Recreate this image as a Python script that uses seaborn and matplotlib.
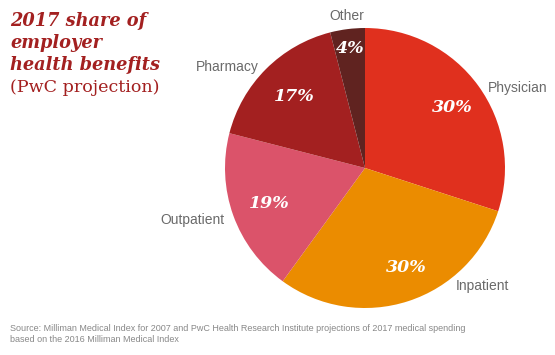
import matplotlib
matplotlib.use("Agg")
import matplotlib.pyplot as plt
import seaborn as sns
import numpy as np

# data
categories = ["Physician", "Inpatient", "Outpatient", "Pharmacy", "Other"]
shares = [30, 30, 19, 17, 4]
colors = ["#E0301E", "#EB8C00", "#DB536A", "#A32020", "#602320"]

title_lines = ["2017 share of", "employer", "health benefits"]
subtitle = "(PwC projection)"
source = ("Source: Milliman Medical Index for 2007 and PwC Health Research Institute projections of 2017 medical spending\n"
          "based on the 2016 Milliman Medical Index")

sns.set_theme(style="white")
plt.rcParams['font.family'] = ['Liberation Sans', 'DejaVu Sans']

fig = plt.figure(figsize=(5.55, 3.55), dpi=100)
ax = fig.add_axes([0.4054, 0.1324, 0.5045, 0.7887])

wedges, texts, autotexts = ax.pie(
    shares, colors=colors, startangle=90, counterclock=False,
    labels=categories, labeldistance=1.2, pctdistance=0.75,
    autopct=lambda p: f"{p:.0f}%",
    wedgeprops=dict(linewidth=0),
    textprops=dict(color="#6a6a6a", fontsize=10),
)
ax.set_xlim(-1, 1)
ax.set_ylim(-1, 1)
ax.set_aspect("equal")

# label placement (angle in degrees, distance in radii)
label_pos = [(27.6, 1.23), (-45, 1.19), (-163.3, 1.29), (143.8, 1.22), (96.8, 1.09)]
for t, (a, d) in zip(texts, label_pos):
    r = np.deg2rad(a)
    t.set_position((d * np.cos(r), d * np.sin(r)))
    t.set_ha("center")
    t.set_va("center")

pct_pos = [(34.6, 0.755), (-67.7, 0.77), (-159.5, 0.73), (134.6, 0.72), (97, 0.86)]
for t, (a, d) in zip(autotexts, pct_pos):
    r = np.deg2rad(a)
    t.set_position((d * np.cos(r), d * np.sin(r)))
    t.set_color("white")
    t.set_fontfamily("DejaVu Serif")
    t.set_fontweight("bold")
    t.set_fontstyle("italic")
    t.set_fontsize(12.5)
    t.set_va("center")

red = "#A32020"
for i, line in enumerate(title_lines):
    fig.text(10 / 555, 1 - (26 + 22 * i) / 355, line,
             fontsize=12.8, fontweight="bold", fontstyle="italic", family="DejaVu Serif",
             color=red, va="baseline")
fig.text(10 / 555, 1 - 92 / 355, subtitle, fontsize=12.6,
         family="DejaVu Serif", color=red, va="baseline")

fig.text(10 / 555, 1 - 334 / 355, source,
         fontsize=6.45, color="#888888", va="center", linespacing=1.35)

fig.savefig("out.png", dpi=100)
